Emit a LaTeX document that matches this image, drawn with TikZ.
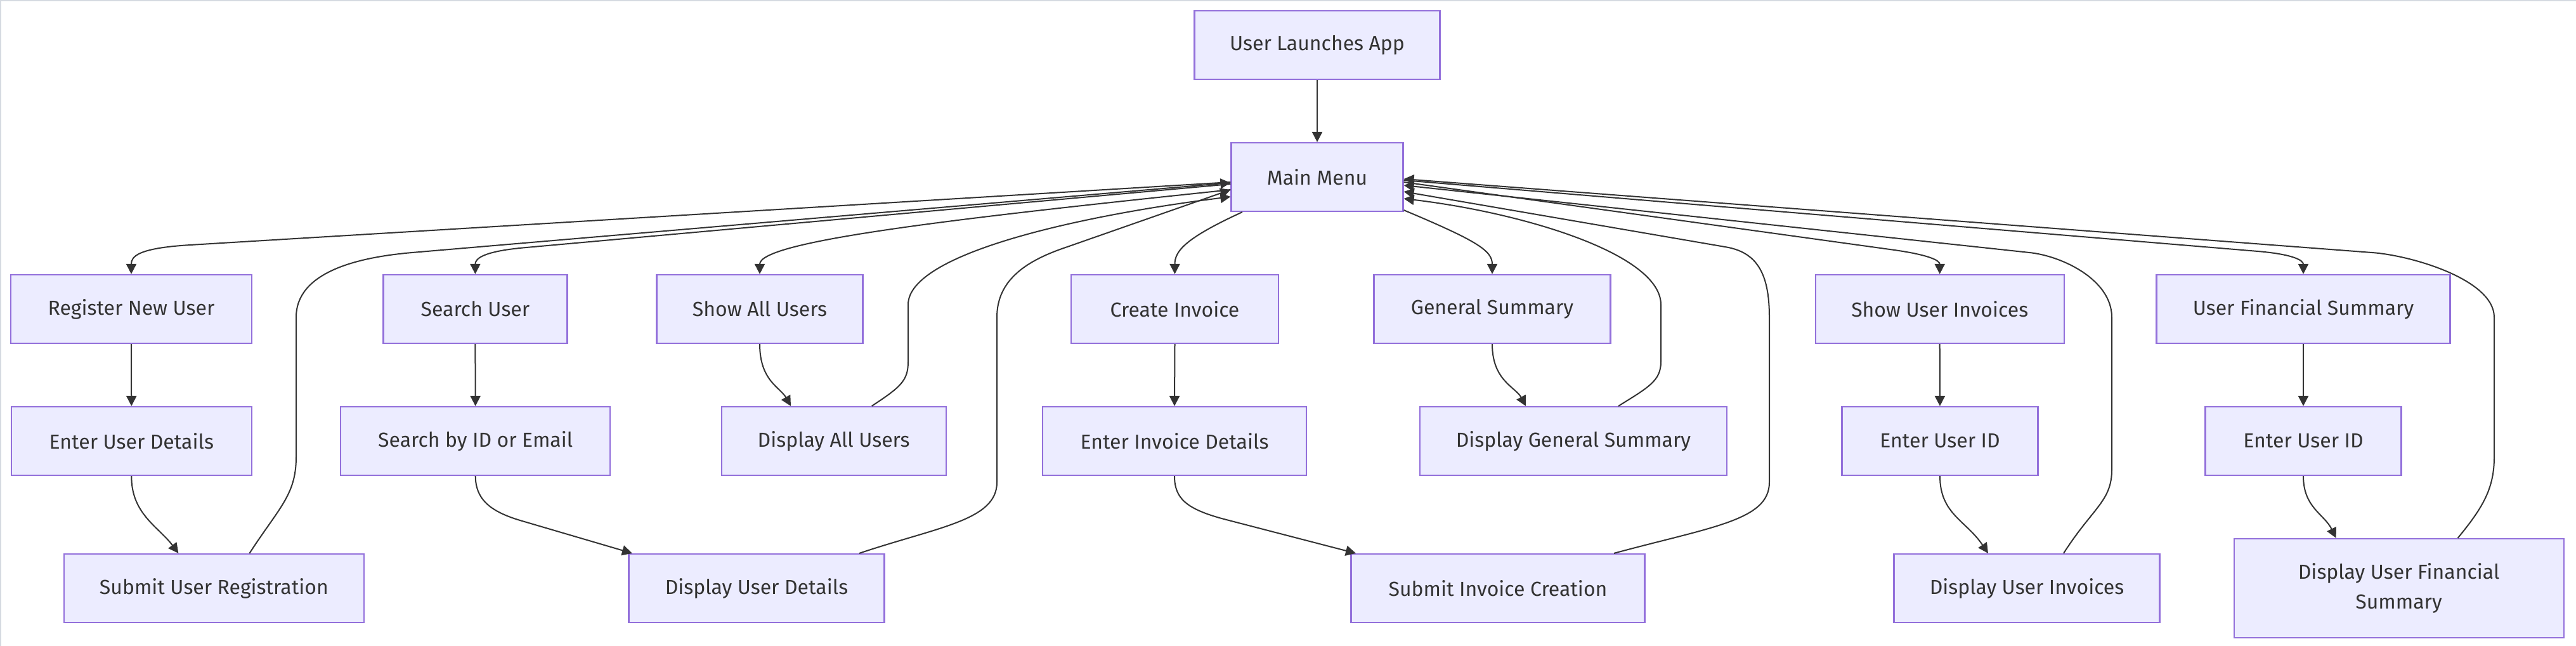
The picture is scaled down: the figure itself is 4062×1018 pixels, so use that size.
\documentclass[tikz,border=0pt]{standalone}
\usepackage{fontspec}
\setmainfont{Fira Sans}
\usetikzlibrary{arrows.meta,calc}
\definecolor{boxfill}{HTML}{ECECFF}
\definecolor{boxborder}{HTML}{9370DB}
\definecolor{textc}{HTML}{333333}
\definecolor{linec}{HTML}{333333}
\definecolor{framec}{HTML}{D5DAE1}
\begin{document}
\begin{tikzpicture}[x=0.25pt,y=-0.25pt,
  box/.style={draw=boxborder, fill=boxfill, line width=0.55pt, text=textc,
    inner sep=0pt, minimum height=27pt, font=\fontsize{8}{11.8}\selectfont},
  edge/.style={draw=linec, line width=0.5pt, -{Triangle[length=4pt,width=4pt]}}]
\fill[white] (0,0) rectangle (4062,1018);
\useasboundingbox (0,0) rectangle (4062,1018);
\draw[framec, line width=0.5pt] (1,1018) -- (1,1) -- (4062,1);

% nodes
\node[box, minimum width=96.75pt] (launch) at (2077,71) {User Launches App};
\node[box, minimum width=67.75pt] (main) at (2077,279) {Main Menu};

\node[box, minimum width=95pt]    (reg)     at (207,487)    {Register New User};
\node[box, minimum width=72.5pt]  (search)  at (749.4,487)  {Search User};
\node[box, minimum width=81.25pt] (showall) at (1198,487)   {Show All Users};
\node[box, minimum width=81.75pt] (create)  at (1852.5,487) {Create Invoice};
\node[box, minimum width=93.25pt] (gensum)  at (2353,487)   {General Summary};
\node[box, minimum width=98pt]    (showinv) at (3058.7,487) {Show User Invoices};
\node[box, minimum width=115.75pt](ufs)     at (3632,487)   {User Financial Summary};

\node[box, minimum width=94.75pt] (enterdet) at (207.3,695) {Enter User Details};
\node[box, minimum width=106.25pt](searchid) at (749.7,695) {Search by ID or Email};
\node[box, minimum width=88.5pt]  (dispall)  at (1314.6,695){Display All Users};
\node[box, minimum width=104pt]   (enterinv) at (1852,695)  {Enter Invoice Details};
\node[box, minimum width=121pt]   (dispgen)  at (2481,695)  {Display General Summary};
\node[box, minimum width=77.25pt] (enterid1) at (3059,695)  {Enter User ID};
\node[box, minimum width=77.25pt] (enterid2) at (3632,695)  {Enter User ID};

\node[box, minimum width=118.25pt](submitreg) at (337.4,927) {Submit User Registration};
\node[box, minimum width=100.75pt](dispdet)   at (1193,927)  {Display User Details};
\node[box, minimum width=115.75pt](submitinv) at (2362,927)  {Submit Invoice Creation};
\node[box, minimum width=104.75pt](dispinv)   at (3196,927)  {Display User Invoices};
\node[box, minimum width=130pt, minimum height=39pt, align=center] (dufs) at (3782.6,927) {Display User Financial\\Summary};

% launch
\draw[edge] (launch.south) -- (main.north);

% outgoing from main (left)
\draw[edge] ($(main.west)+(0,8)$) -- (300,386) .. controls (215,391) and (207,405) .. (reg.north);
\draw[edge] ($(main.west)+(0,11)$) -- (830,390) .. controls (760,396) and (749.4,408) .. (search.north);
\draw[edge] ($(main.west)+(0,20)$) .. controls (1500,345) and (1198,380) .. (showall.north);
% outgoing from main (bottom)
\draw[edge] ($(main.south)+(-118,0)$) .. controls (1870,375) and (1852.5,395) .. (create.north);
\draw[edge] ($(main.south east)+(0,-3)$) .. controls (2330,380) and (2353,395) .. (gensum.north);
% outgoing from main (right)
\draw[edge] ($(main.east)+(0,8)$) -- (2980,393) .. controls (3040,401) and (3058.7,410) .. (showinv.north);
\draw[edge] ($(main.east)+(0,5)$) -- (3560,396) .. controls (3615,400.6) and (3632,410) .. (ufs.north);

% returns to main (left)
\draw[edge] ($(submitreg.north)+(56,0)$) .. controls (440,800) and (467,780) .. (467,720) -- (467,500) .. controls (467,430) and (560,405.7) .. (650,398) -- ($(main.west)+(0,9)$);
\draw[edge] ($(dispdet.north)+(162,0)$) .. controls (1480,830) and (1572,820) .. (1572,760) -- (1572,500) .. controls (1572,440) and (1620,410) .. (1683,389) -- ($(main.west)+(0,20)$);
\draw[edge] ($(dispall.north)+(60,0)$) .. controls (1420,610) and (1432,600) .. (1432,570) -- (1432,480) .. controls (1432,400) and (1700,340) .. ($(main.west)+(0,31)$);
% returns to main (right)
\draw[edge] ($(dispgen.north)+(71,0)$) .. controls (2600,610) and (2619,600) .. (2619,570) -- (2619,480) .. controls (2619,400) and (2400,335) .. ($(main.east)+(0,34)$);
\draw[edge] ($(submitinv.north)+(183,0)$) .. controls (2700,830) and (2790,820) .. (2790,760) -- (2790,500) .. controls (2790,430) and (2770,397) .. (2720,389) -- ($(main.east)+(0,23)$);
\draw[edge] ($(dispinv.north)+(58,0)$) .. controls (3300,800) and (3330,790) .. (3330,740) -- (3330,500) .. controls (3330,440) and (3250,403) .. (3200,398) -- ($(main.east)+(0,13)$);
\draw[edge] ($(dufs.north)+(93,0)$) .. controls (3915,800) and (3933,770) .. (3933,720) -- (3933,500) .. controls (3933,440) and (3800,402) .. (3740,398) -- ($(main.east)+(0,3)$);

% chains
\draw[edge] (reg.south) -- (enterdet.north);
\draw[edge] (enterdet.south) .. controls (207,810) and (250,830) .. ($(submitreg.north)+(-56,0)$);
\draw[edge] (search.south) -- (searchid.north);
\draw[edge] (searchid.south) .. controls (750,785) and (770,805) .. (820,820) -- ($(dispdet.north)+(-196,0)$);
\draw[edge] (showall.south) .. controls (1198,600) and (1230,610) .. ($(dispall.north)+(-67.6,0)$);
\draw[edge] (create.south) -- (enterinv.north);
\draw[edge] (enterinv.south) .. controls (1852,785) and (1870,802) .. (1930,818) -- ($(submitinv.north)+(-224,0)$);
\draw[edge] (gensum.south) .. controls (2353,600) and (2390,610) .. ($(dispgen.north)+(-75,0)$);
\draw[edge] (showinv.south) -- (enterid1.north);
\draw[edge] (enterid1.south) .. controls (3059,810) and (3100,820) .. ($(dispinv.north)+(-61,0)$);
\draw[edge] (ufs.south) -- (enterid2.north);
\draw[edge] (enterid2.south) .. controls (3632,800) and (3665,810) .. ($(dufs.north)+(-99,0)$);
\end{tikzpicture}
\end{document}
